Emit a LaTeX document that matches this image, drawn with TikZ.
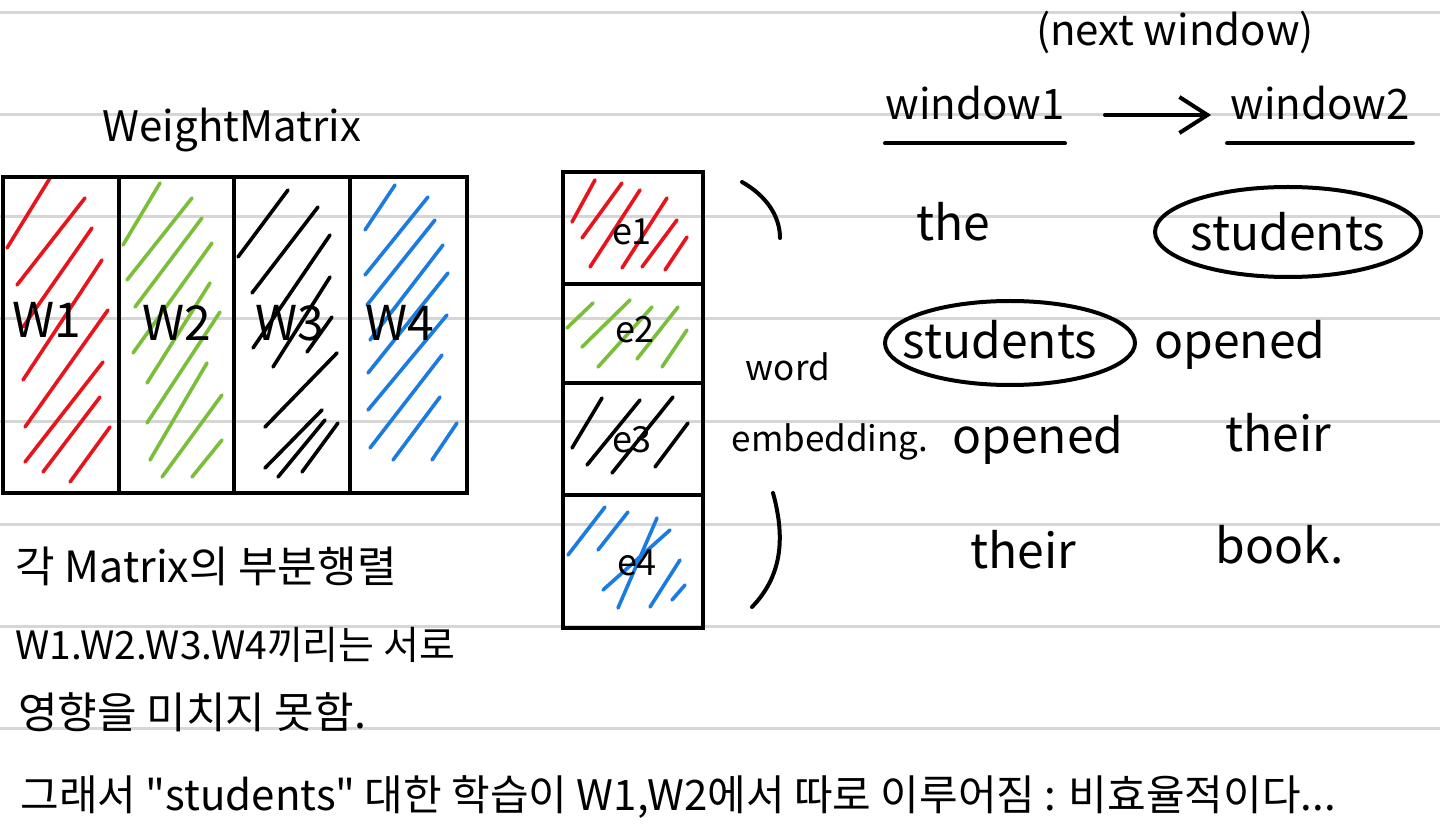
\documentclass[tikz,border=0pt]{standalone}
\usepackage{fontspec}
\setmainfont{Noto Sans CJK KR}
\usetikzlibrary{arrows.meta}
\definecolor{rulegray}{HTML}{D6D6D6}
\definecolor{hred}{HTML}{E8141B}
\definecolor{hgreen}{HTML}{7BBE3A}
\definecolor{hblue}{HTML}{1B7BE0}
\begin{document}
\begin{tikzpicture}[x=0.5pt,y=-0.5pt,
  rule/.style={rulegray,line width=1.5pt},
  boxline/.style={draw=black,line width=2pt},
  hatch/.style={line width=1.8pt,line cap=round},
  lbl/.style={font=\fontsize{20}{24}\selectfont,inner sep=0pt},
  wlbl/.style={font=\fontsize{24}{28}\selectfont,inner sep=0pt},
  elbl/.style={font=\fontsize{18}{22}\selectfont,inner sep=0pt},
  note/.style={font=\fontsize{21.5}{26}\selectfont,inner sep=0pt,anchor=west},
  wrd/.style={font=\fontsize{24}{28}\selectfont,inner sep=0pt},
  small/.style={font=\fontsize{17.5}{22}\selectfont,inner sep=0pt},
  winbox/.style={font=\fontsize{21}{24}\selectfont,inner sep=0pt,minimum height=40pt},
  ink/.style={line width=2pt,line cap=round}]
\useasboundingbox (0,0) rectangle (1440,828);
\fill[white] (0,0) rectangle (1440,828);
% ruled paper lines
\foreach \y in {13,115,217,319,422,524,626,728} \draw[rule] (0,\y) -- (1440,\y);

% ---------- Weight matrix hatching ----------
\foreach \a/\b/\c/\d in {7/248/50/178, 17/285/85/198, 23/327/92/228, 23/380/102/260,
  25/427/108/310, 25/462/103/362, 43/472/100/397, 70/482/110/427}
  \draw[hatch,hred] (\a,\b) -- (\c,\d);
\foreach \a/\b/\c/\d in {123/245/160/183, 127/280/192/198, 135/307/202/218, 133/353/212/243,
  147/383/210/283, 147/423/220/312, 150/460/207/363, 162/477/222/395, 192/477/222/440}
  \draw[hatch,hgreen] (\a,\b) -- (\c,\d);
\foreach \a/\b/\c/\d in {238/257/288/190, 252/293/318/207, 253/348/330/235, 273/367/330/277,
  307/352/332/317, 265/427/337/353, 265/468/322/410, 278/477/325/420, 302/472/338/423}
  \draw[hatch,black] (\a,\b) -- (\c,\d);
\foreach \a/\b/\c/\d in {365/230/395/185, 365/275/428/197, 367/305/435/220, 370/340/443/245,
  368/373/448/273, 368/410/447/315, 370/448/442/355, 393/460/440/397, 432/460/457/423}
  \draw[hatch,hblue] (\a,\b) -- (\c,\d);

% ---------- Embedding hatching ----------
\foreach \a/\b/\c/\d in {572/222/595/180, 582/238/622/183, 590/267/640/190, 622/268/667/198,
  642/267/677/220, 665/270/687/237}
  \draw[hatch,hred] (\a,\b) -- (\c,\d);
\foreach \a/\b/\c/\d in {567/328/593/303, 582/347/630/300, 598/367/652/307, 637/359/678/307,
  662/367/687/330}
  \draw[hatch,hgreen] (\a,\b) -- (\c,\d);
\foreach \a/\b/\c/\d in {572/448/602/398, 587/465/640/400, 612/473/673/397, 655/467/688/423}
  \draw[hatch,black] (\a,\b) -- (\c,\d);
\foreach \a/\b/\c/\d in {568/555/605/507, 598/550/628/512, 603/590/670/530, 618/608/657/518,
  650/607/680/560, 672/600/685/585}
  \draw[hatch,hblue] (\a,\b) -- (\c,\d);

% ---------- Weight matrix ----------
\node[lbl,font=\fontsize{21}{24}\selectfont] (wmtitle) at (232,130) {WeightMatrix};
\draw[boxline] (3,177) rectangle (467,493);
\foreach \x in {119,234,350} \draw[boxline] (\x,177) -- (\x,493);
\node[wlbl] (w1) at (47,320) {W1};
\node[wlbl] (w2) at (177,323) {W2};
\node[wlbl] (w3) at (290,323) {W3};
\node[wlbl] (w4) at (400,323) {W4};

% ---------- Embedding column ----------
\draw[boxline] (563,172) rectangle (703,628);
\foreach \y in {284,383,495} \draw[boxline] (563,\y) -- (703,\y);
\node[elbl] (e1) at (632,232) {e1};
\node[elbl] (e2) at (635,330) {e2};
\node[elbl] (e3) at (632,440) {e3};
\node[elbl] (e4) at (637,563) {e4};

% brackets
\draw[ink] (742,182) .. controls (765,195) and (780,215) .. (780,238);
\draw[ink] (773,493) .. controls (786,540) and (781,577) .. (752,607);
\node[small] (wordlbl) at (788,367) {word};
\node[small] (emblbl) at (830,442) {embedding.};

% ---------- Windows ----------
\node[winbox] (nextwin) at (1175,32) {(next window)};
\node[winbox,minimum width=88pt] (win1) at (975,103) {window1};
\node[winbox,minimum width=92.5pt] (win2) at (1320,103) {window2};
\draw[ink] (win1.south west) -- (win1.south east);
\draw[ink] (win2.south west) -- (win2.south east);
\draw[ink,-{Straight Barb[length=14pt,width=18pt,line width=2pt]},shorten <=20pt,shorten >=8pt]
  ([yshift=-6pt]win1.east) -- ([yshift=-6pt]win2.west);

% window 1 words
\node[wrd] (the1) at (953,222) {the};
\node[wrd] (stu1) at (1000,340) {students};
\node[wrd] (ope1) at (1038,440) {opened};
\node[wrd] (the2) at (1023,550) {their};
\draw[ink] ([shift={(10,3)}]stu1.center) ellipse [x radius=62.5pt, y radius=21pt];
% window 2 words
\node[wrd] (stu2) at (1288,232) {students};
\node[wrd] (ope2) at (1240,345) {opened};
\node[wrd] (the3) at (1278,433) {their};
\node[wrd] (book) at (1280,545) {book.};
\draw[ink] (stu2.center) ellipse [x radius=66.5pt, y radius=22.5pt];

% ---------- Korean notes ----------
\node[note] (n1) at (15,566) {각 Matrix의 부분행렬};
\node[note,font=\fontsize{19.5}{24}\selectfont] (n2) at (15,645) {W1.W2.W3.W4끼리는 서로};
\node[note] (n3) at (18,712) {영향을 미치지 못함.};
\node[note,font=\fontsize{21}{26}\selectfont] (n4) at (20,797) {그래서 \textquotedbl students\textquotedbl{} 대한 학습이 W1,W2에서 따로 이루어짐 : 비효율적이다...};
\end{tikzpicture}
\end{document}
